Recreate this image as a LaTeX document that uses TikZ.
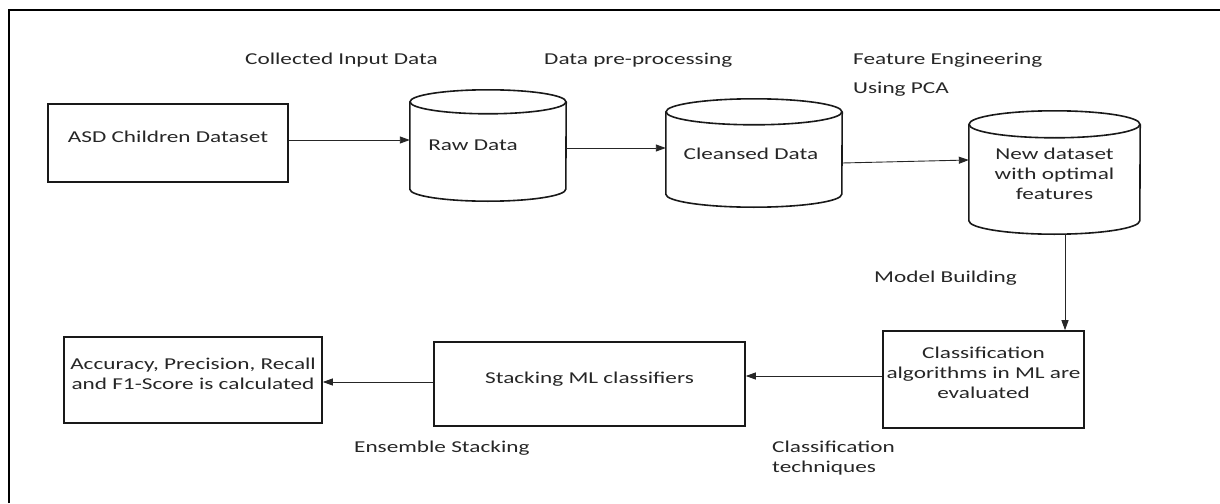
\documentclass[tikz,border=0pt]{standalone}
\usepackage{fontspec}
\setmainfont[FakeStretch=1.4]{Carlito}
\usetikzlibrary{arrows.meta,calc}
\newcommand\drawcyl[3]{%
  \draw[cylline] ($(#1.north)+(0,#3)$) ellipse [x radius=#2, y radius=#3];
  \draw[cylline] ($(#1.north west)+(0,#3)$) -- ($(#1.south west)-(0,#3)$)
     arc[start angle=180, end angle=0, x radius=#2, y radius=#3]
     -- ($(#1.north east)+(0,#3)$);
}
\begin{document}
\begin{tikzpicture}[x=1pt,y=-1pt,
  every node/.style={font=\fontsize{16.6pt}{20pt}\selectfont, text=black!85, inner sep=0pt},
  boxnode/.style={draw=black!90, line width=1.6pt, text height=12pt, text depth=14pt, align=center},
  cylnode/.style={draw=none, text height=12pt, align=center},
  cylline/.style={draw=black!90, line width=1.6pt},
  lab/.style={anchor=base west},
  arr/.style={draw=black!85, line width=0.9pt, -{Triangle[length=10pt,width=7pt]}}
]
\useasboundingbox (0,0) rectangle (1220,503);
\draw[line width=2.2pt] (9,503) -- (9,10) -- (1220,10);

% boxes
\node[boxnode, minimum width=240pt, minimum height=78pt] (asd) at (168,143) {ASD Children Dataset};
\node[boxnode, minimum width=201pt, minimum height=97pt, text height=37pt, text depth=0pt] (cls) at (983.5,379.5) {Classification\\algorithms in ML are\\evaluated};
\node[boxnode, minimum width=311pt, minimum height=84pt] (stk) at (589.5,384) {Stacking ML classifiers};
\node[boxnode, minimum width=258pt, minimum height=86pt, text height=18pt, text depth=0pt] (acc) at (193,380) {Accuracy, Precision, Recall\\and F1-Score is calculated};

% cylinders
\node[cylnode, minimum width=156pt, minimum height=111pt, text depth=3pt] (raw) at (488,145.5) {Raw Data\hspace*{30pt}};
\node[cylnode, minimum width=176pt, minimum height=108pt, text depth=0pt] (cln) at (754,153) {Cleansed Data\hspace*{6pt}};
\node[cylnode, minimum width=171pt, minimum height=123pt, text height=53pt, text depth=0pt] (new) at (1054.5,172.5) {New dataset\\with optimal\\features};
\drawcyl{raw}{78}{12}
\drawcyl{cln}{88}{13}
\drawcyl{new}{85.5}{13.5}

% labels
\node[lab] (l1) at (245,65) {Collected Input Data};
\node[lab] (l2) at (544,65) {Data pre-processing};
\node[lab] (l3) at (853,65) {Feature Engineering};
\node[lab] (l4) at (853,93) {Using PCA};
\node[lab] (l5) at (874,282) {Model Building};
\node[lab] (l6) at (354,452) {Ensemble Stacking};
\node[anchor=base west, align=left] (l7) at (772,472) {Classification\\techniques};

% connectors
\draw[arr] ([yshift=3pt]asd.east) -- ([yshift=3pt]asd.east -| raw.west);
\draw[arr] ([yshift=-2.5pt]raw.east) -- ([yshift=-2.5pt]raw.east -| cln.west);
\draw[arr] ([yshift=-10pt]cln.east) -- ([yshift=12.5pt]new.west);
\draw[arr] ([xshift=10.5pt]new.south) -- ([xshift=10.5pt]new.south |- cls.north);
\draw[arr] ([yshift=3.5pt]cls.west) -- ([yshift=3.5pt]cls.west -| stk.east);
\draw[arr] ([yshift=2pt]stk.west) -- ([yshift=2pt]stk.west -| acc.east);
\end{tikzpicture}
\end{document}
